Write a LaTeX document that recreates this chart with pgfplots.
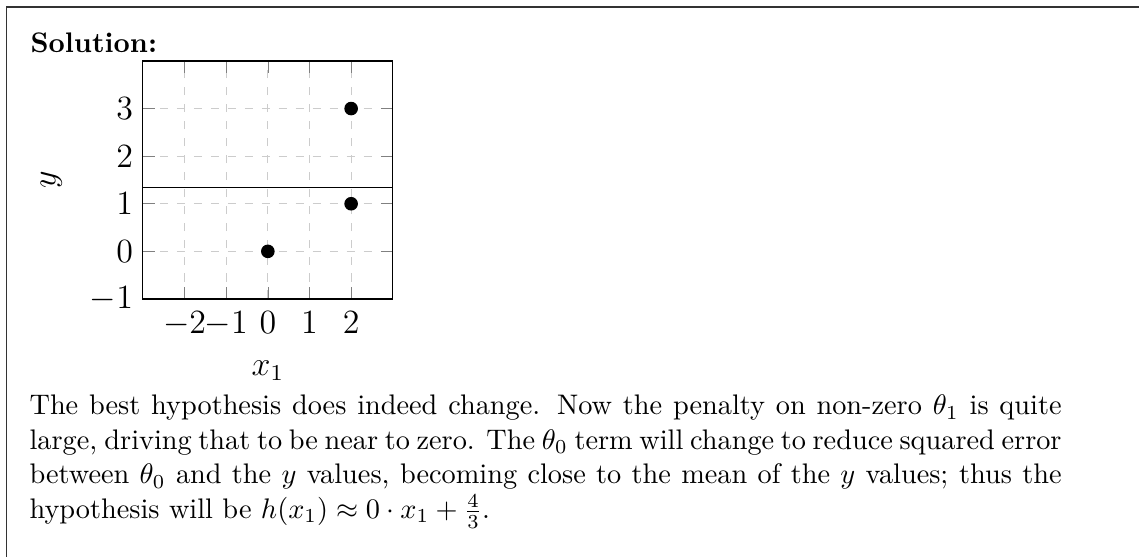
\documentclass[border=0pt]{standalone}
\usepackage{pgfplots}
\pgfplotsset{compat=1.18}
\begin{document}
\begin{tikzpicture}[x=1pt,y=1pt]
\useasboundingbox (0,0) rectangle (402.5,-196.8);
% solution frame (left and top rules)
\draw[line width=0.5pt, black!80] (2.3,-220) -- (2.3,-2.47) -- (430,-2.47);
\node[anchor=base west, inner sep=0, font=\bfseries] at (10.6,-18.4) {Solution:};
\begin{axis}[
  at={(50.5pt,-21.55pt)}, anchor=north west,
  scale only axis, width=88.3pt, height=84.1pt,
  xmin=-3, xmax=3, ymin=-1, ymax=4,
  xtick={-2,...,2}, ytick={-1,...,3},
  grid=major, major grid style={dashed, gray!40},
  tick label style={font=\large},
  label style={font=\large},
  xticklabel shift=0.8pt,
  xlabel shift=2pt,
  ylabel shift=3pt,
  xlabel={$x_1$}, ylabel={$y$},
]
\addplot[only marks, mark=*, mark size=2.2pt, black] coordinates {(0,0) (2,1) (2,3)};
\addplot[black] coordinates {(-3,1.33333) (3,1.33333)};
\end{axis}
\node[anchor=base west, inner sep=0] at (10.25,-146.6) {\parbox[t]{364.7pt}{\fontsize{10}{12.2}\selectfont
The best hypothesis does indeed change. Now the penalty on non-zero $\theta_1$ is quite\linebreak
large, driving that to be near to zero. The $\theta_0$ term will change to reduce squared error\linebreak
between $\theta_0$ and the $y$ values, becoming close to the mean of the $y$ values; thus the\linebreak
hypothesis will be $h(x_1) \approx 0 \cdot x_1 + \frac{4}{3}$.}};
\end{tikzpicture}
\end{document}
